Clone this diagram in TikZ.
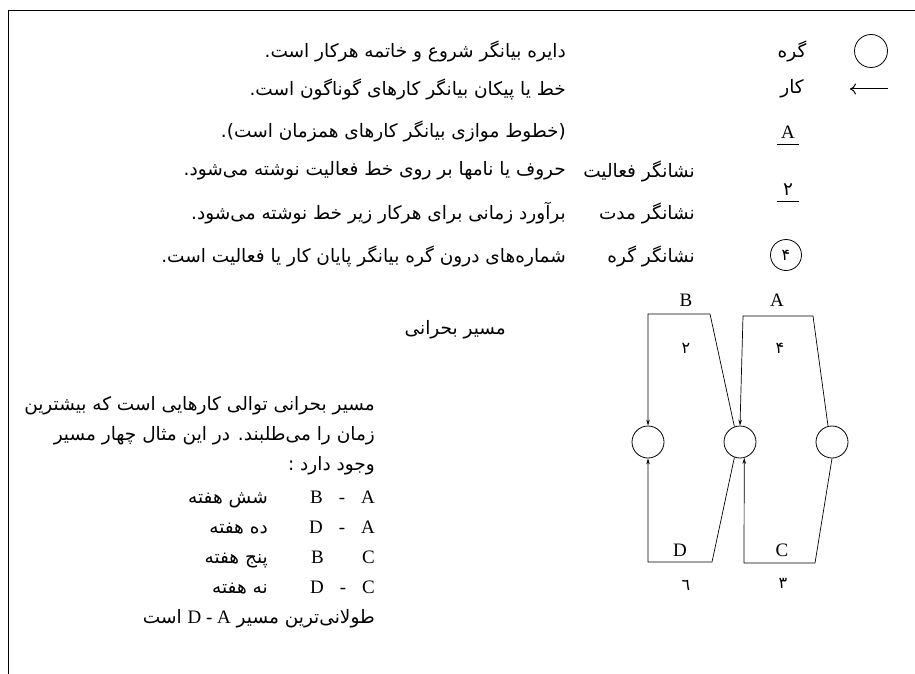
\documentclass[tikz,border=0pt]{standalone}
\usepackage{fontspec}
\setmainfont{Liberation Serif}
\newfontfamily\arabicfont[Script=Arabic]{DejaVu Sans}
\usetikzlibrary{arrows.meta}
\TeXXeTstate=1
\newcommand{\rl}[1]{\beginR #1\endR}
\tikzset{
  fatext/.style={font=\arabicfont\fontsize{18.5}{20}\selectfont, inner sep=0pt},
  fadigit/.style={font=\arabicfont\fontsize{16}{18}\selectfont, inner sep=0pt},
  latin/.style={font=\fontsize{19}{21}\selectfont, inner sep=0pt},
  knot/.style={draw, circle, minimum size=32pt, inner sep=0pt, line width=0.8pt},
  arr/.style={line width=0.7pt, -{Stealth[length=6pt,width=3.5pt]}},
  plain/.style={line width=0.7pt}
}

\begin{document}
\begin{tikzpicture}[x=1pt, y=-1pt]
    \useasboundingbox (0,0) rectangle (915,674);

    % Frame
    \coordinate (f1) at (915,10);
    \coordinate (f2) at (8,10);
    \coordinate (f3) at (8,674);
    \draw[plain] (f1) -- (f2) -- (f3);

    % Legend symbols
    \node[knot, minimum size=33pt] (lg1) at (871,51) {};
    \coordinate (ar1) at (888,89);
    \coordinate (ar2) at (850,89);
    \draw[line width=1pt, -{To[length=6pt,width=11pt]}] (ar1) -- (ar2);
    \node[fatext] (w1) at (792,51) {\rl{گره}};
    \node[fatext] (w2) at (792,89) {\rl{کار}};
    \node[latin, minimum width=22pt] (lA) at (788,132) {A};
    \draw[plain] ([yshift=-6pt]lA.south west) -- ([yshift=-6pt]lA.south east);
    \node[fatext, minimum width=22pt] (l2) at (788,190) {۲};
    \draw[plain] ([yshift=-5pt]l2.south west) -- ([yshift=-5pt]l2.south east);
    \node[knot, minimum size=31pt, font=\arabicfont\fontsize{16}{18}\selectfont] (l4) at (786,255) {۴};

    % Legend texts
    \node[fatext, anchor=east] (d1) at (566,51) {\rl{دایره بیانگر شروع و خاتمه هرکار است.}};
    \node[fatext, anchor=east] (d2) at (566,89) {\rl{خط یا پیکان بیانگر کارهای گوناگون است.}};
    \node[fatext, anchor=east] (d3) at (566,131) {\rl{(خطوط موازی بیانگر کارهای همزمان است).}};
    \node[fatext, anchor=east] (t4) at (695,171) {\rl{نشانگر فعالیت}};
    \node[fatext, anchor=east] (d4) at (566,171) {\rl{حروف یا نامها بر روی خط فعالیت نوشته می‌شود.}};
    \node[fatext, anchor=east] (t5) at (695,213) {\rl{نشانگر مدت}};
    \node[fatext, anchor=east] (d5) at (566,213) {\rl{برآورد زمانی برای هرکار زیر خط نوشته می‌شود.}};
    \node[fatext, anchor=east] (t6) at (695,256) {\rl{نشانگر گره}};
    \node[fatext, anchor=east] (d6) at (566,256) {\rl{شماره‌های درون گره بیانگر پایان کار یا فعالیت است.}};

    % Critical path text
    \node[fatext, anchor=east] (h1) at (506,330) {\rl{مسیر بحرانی}};
    \node[fatext, anchor=east] (p1) at (375,406) {\rl{مسیر بحرانی توالی کارهایی است که بیشترین}};
    \node[fatext, anchor=east] (p2) at (375,436) {\rl{زمان را می‌طلبند. در این مثال چهار مسیر}};
    \node[fatext, anchor=east] (p3) at (375,466) {\rl{وجود دارد :}};
    \node[latin, anchor=base east] (r1) at (375,503) {B\hspace{16pt}-\hspace{16pt}A};
    \node[fatext, anchor=base east] (s1) at (268,503) {\rl{شش هفته}};
    \node[latin, anchor=base east] (r2) at (375,533) {D\hspace{16pt}-\hspace{16pt}A};
    \node[fatext, anchor=base east] (s2) at (268,533) {\rl{ده هفته}};
    \node[latin, anchor=base east] (r3) at (375,563) {B\hspace{16pt}\phantom{-}\hspace{16pt}C};
    \node[fatext, anchor=base east] (s3) at (268,563) {\rl{پنج هفته}};
    \node[latin, anchor=base east] (r4) at (375,593) {D\hspace{16pt}-\hspace{16pt}C};
    \node[fatext, anchor=base east] (s4) at (268,593) {\rl{نه هفته}};
    \node[fatext, anchor=base east] (p4) at (375,623) {\rl{طولانی‌ترین مسیر \beginL{\rmfamily\fontsize{19}{21}\selectfont D - A}\endL{} است}};

    % Network
    \node[knot] (n1) at (648,442) {};
    \node[knot] (n2) at (740,442) {};
    \node[knot] (n3) at (832,442) {};
    \coordinate (b1) at (710,314);
    \coordinate (b2) at (648,314);
    \coordinate (a1) at (813,316);
    \coordinate (a2) at (743,316);
    \coordinate (e1) at (712,562);
    \coordinate (e2) at (648,562);
    \coordinate (c1) at (815,563);
    \coordinate (c2) at (744,563);
    \draw[arr] (n2.110) -- (b1) -- (b2) -- (n1.north);
    \draw[arr] (n3.104) -- (a1) -- (a2) -- (n2.north);
    \draw[arr] (n2.250) -- (e1) -- (e2) -- (n1.south);
    \draw[arr] (n3.south) -- (c1) -- (c2) -- (n2.285);

    % Activity labels
    \node[latin] (kB) at (686,300) {B};
    \node[latin] (kA) at (777,300) {A};
    \node[fadigit] (k2) at (686,348) {۲};
    \node[fadigit] (k4) at (780,348) {۴};
    \node[latin] (kD) at (680,550) {D};
    \node[latin] (kC) at (782,550) {C};
    \node[fadigit] (k6) at (686,585) {٦};
    \node[fadigit] (k3) at (783,583) {۳};
\end{tikzpicture}
\end{document}
